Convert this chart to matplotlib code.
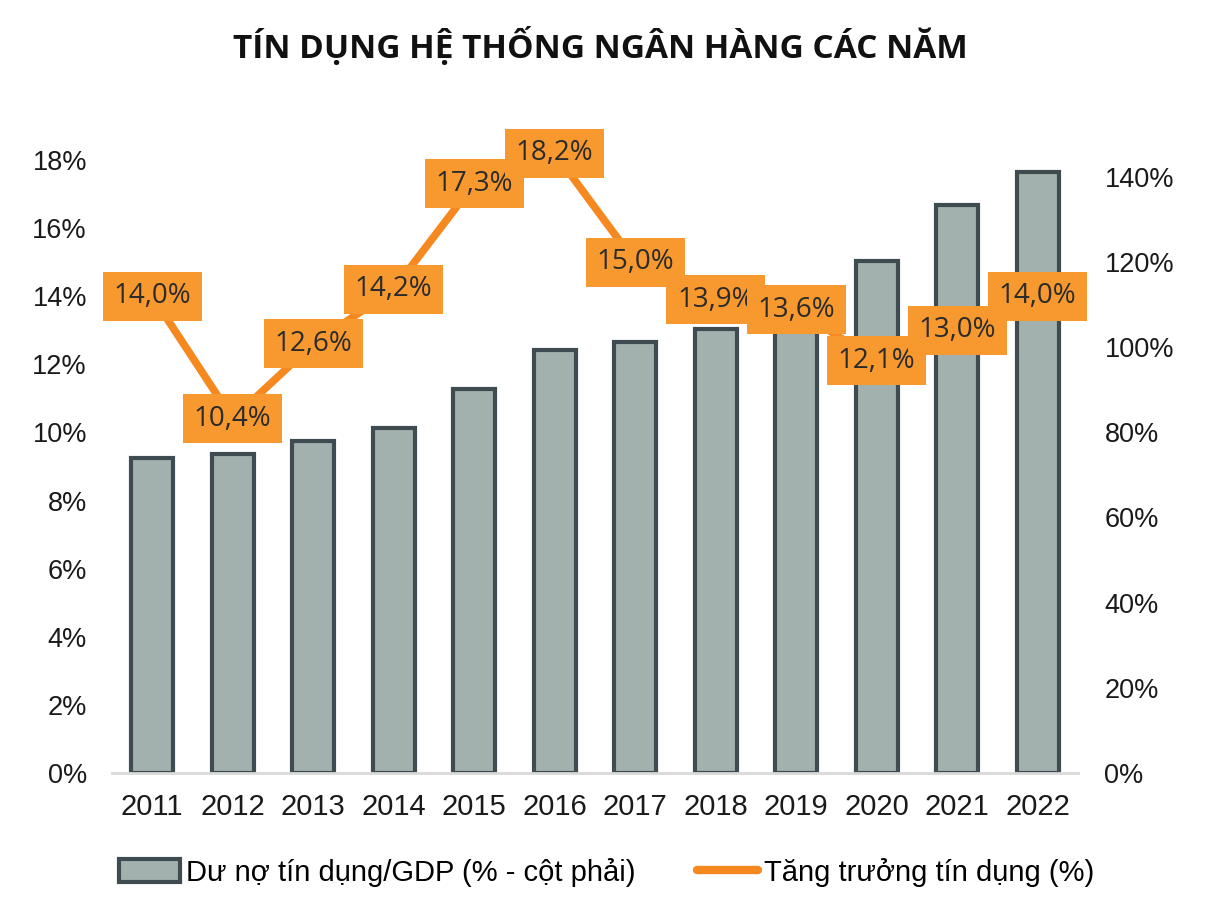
import numpy as np
import matplotlib
matplotlib.use("Agg")
import matplotlib.pyplot as plt
from matplotlib.patches import Patch
from matplotlib.lines import Line2D

years = ["2011", "2012", "2013", "2014", "2015", "2016",
         "2017", "2018", "2019", "2020", "2021", "2022"]
# credit growth (%), left axis
growth = [14.0, 10.4, 12.6, 14.2, 17.3, 18.2, 15.0, 13.9, 13.6, 12.1, 13.0, 14.0]
# credit / GDP (%), right axis
credit_gdp = [74.0, 75.0, 78.0, 81.1, 90.2, 99.2, 101.3, 104.3, 108.0, 120.1, 133.3, 141.2]

title = "TÍN DỤNG HỆ THỐNG NGÂN HÀNG CÁC NĂM"
bar_label = "Dư nợ tín dụng/GDP (% - cột phải)"
line_label = "Tăng trưởng tín dụng (%)"

bar_color = "#a3b1ae"
bar_edge = "#3e4c52"
orange_line = "#f5891f"
orange_box = "#f7992f"
txt = "#1a1a1a"

plt.rcParams['font.family'] = ['Liberation Sans', 'DejaVu Sans']

fig = plt.figure(figsize=(12.25, 9), dpi=100)
ax = fig.add_axes([0.0914, 0.141, 0.7886, 0.737])
ax2 = ax.twinx()

x = np.arange(len(years))
ax2.bar(x, credit_gdp, width=0.52, color=bar_color, edgecolor=bar_edge, linewidth=3)
ax.plot(x, growth, color=orange_line, linewidth=5.5, solid_capstyle="round")

for xi, v in zip(x, growth):
    ax.text(xi, v, ("%.1f%%" % v).replace(".", ","), ha="center", va="center",
            fontsize=20, color="#2b2b2b", family=["Open Sans", "DejaVu Sans"],
            bbox=dict(boxstyle="square,pad=0.38", fc=orange_box, ec="none"))

ax.set_zorder(ax2.get_zorder() + 1)
ax.patch.set_visible(False)

ax.set_xlim(-0.5, len(years) - 0.5)
ax.set_ylim(0, 19.47)
ax2.set_ylim(0, 155.7)
ax.set_yticks(np.arange(0, 19, 2))
ax.set_yticklabels(["%d%%" % t for t in range(0, 19, 2)])
ax2.set_yticks(np.arange(0, 141, 20))
ax2.set_yticklabels(["%d%%" % t for t in range(0, 141, 20)])
ax.set_xticks(x)
ax.set_xticklabels(years)

for a in (ax, ax2):
    for s in a.spines.values():
        s.set_visible(False)
    a.tick_params(length=0, labelsize=19.5, colors=txt)
ax.tick_params(axis="y", pad=18)
ax2.tick_params(axis="y", pad=19)
ax.tick_params(axis="x", labelsize=21, pad=14)
ax.spines["bottom"].set_visible(True)
ax.spines["bottom"].set_color("#d9d9d9")
ax.spines["bottom"].set_linewidth(2)

fig.text(0.49, 0.948, title, ha="center", va="center", fontsize=24, fontweight="bold",
         color="#111111", family=["Liberation Sans Narrow", "Open Sans", "DejaVu Sans"])

handles = [Patch(facecolor=bar_color, edgecolor=bar_edge, linewidth=3),
           Line2D([0], [0], color=orange_line, linewidth=6, solid_capstyle="round")]
fig.legend(handles, [bar_label, line_label], loc="center", bbox_to_anchor=(0.495, 0.031),
           ncol=2, frameon=False, fontsize=21, handlelength=2.1, handleheight=0.8,
           columnspacing=2.1, handletextpad=0.2)

fig.savefig("out.png", dpi=100)
